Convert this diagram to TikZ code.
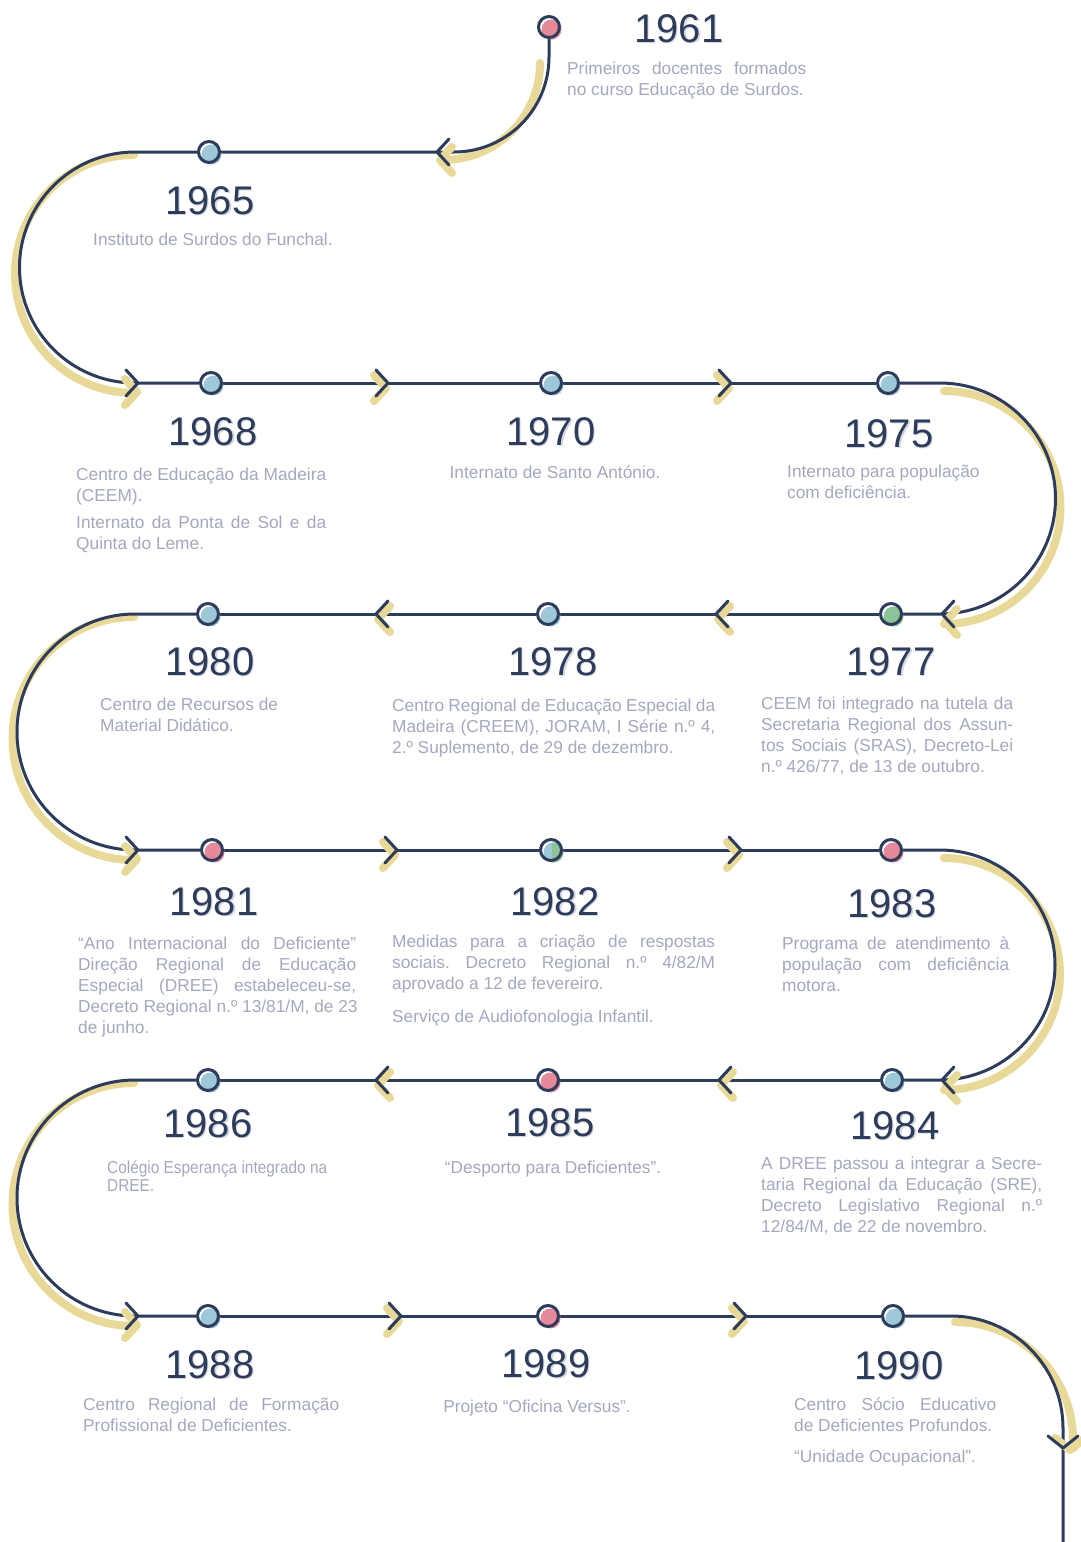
\documentclass[tikz,border=0pt]{standalone}
\usepackage{fontspec}
\setmainfont{Liberation Sans}
\frenchspacing

\definecolor{navy}{RGB}{46,60,92}
\definecolor{sand}{RGB}{233,217,152}
\definecolor{pinkD}{RGB}{232,137,155}
\definecolor{blueD}{RGB}{156,200,216}
\definecolor{greenD}{RGB}{140,196,154}
\definecolor{txt}{RGB}{163,168,190}
\definecolor{yshadow}{RGB}{214,216,224}

% stretched (justified) line of a given width
\newcommand\J[2]{\makebox[#1pt][s]{#2}}

% chevrons: tip x, tip y, shadow dx, shadow dy
\newcommand\chevR[4]{%
  \draw[shade] ({#1+#3-12},{#2+#4-13}) -- ({#1+#3},{#2+#4}) -- ({#1+#3-12},{#2+#4+13});
  \draw[chev] ({#1-12},{#2-13}) -- (#1,#2) -- ({#1-12},{#2+13});}
\newcommand\chevL[4]{%
  \draw[shade] ({#1+#3+12},{#2+#4-13}) -- ({#1+#3},{#2+#4}) -- ({#1+#3+12},{#2+#4+13});
  \draw[chev] ({#1+12},{#2-13}) -- (#1,#2) -- ({#1+12},{#2+13});}
\newcommand\chevD[4]{%
  \draw[shade] ({#1+#3-15},{#2+#4-12}) -- ({#1+#3},{#2+#4}) -- ({#1+#3+15},{#2+#4-12});
  \draw[chev] ({#1-15},{#2-12}) -- (#1,#2) -- ({#1+15},{#2-12});}

% timeline stop: white disc, offset coloured disc, navy ring
\newcommand\dotmark[2]{%
  \fill[white] (#1) circle (10.5);
  \fill[#2] ([shift={(2.5,2.5)}]#1.center) circle (10);
  \draw[navy,line width=3pt] (#1) circle (10.5);}

% year with soft shadow
\newcommand\yrlabel[3]{%
  \node[yr,text=yshadow] at ({#1+1.2},{#2+1.2}) {#3};
  \node[yr] (y#3) at (#1,#2) {#3};}

\tikzset{
  tl/.style={draw=navy, line width=3pt},
  chev/.style={draw=navy, line width=3pt, line cap=round, line join=round},
  shade/.style={draw=sand, line width=8pt, line cap=round, line join=round},
  stop/.style={circle, minimum size=24pt, inner sep=0pt},
  yr/.style={font=\fontsize{40}{40}\selectfont, text=navy, inner sep=0pt},
  body/.style={anchor=north west, inner sep=0pt, align=left, text=txt,
    font=\fontsize{17.3}{21}\selectfont, yshift=14.7pt,
    execute at begin node={\strut}},
  narrow/.style={anchor=north west, inner sep=0pt, align=left, text=txt,
    font=\fontsize{17.3}{18}\selectfont, yshift=12.6pt},
  one/.style={anchor=base, inner sep=0pt, text=txt,
    font=\fontsize{17.3}{21}\selectfont},
}

\begin{document}
\begin{tikzpicture}[x=1pt,y=-1pt]
\useasboundingbox (0,0) rectangle (1081,1542);

% stops along the line
\foreach \n/\x/\y in {1961/549/27, 1965/209/152, 1968/211/383, 1970/551/383,
  1975/888/383, 1977/891/614, 1978/548/614, 1980/208/614, 1981/212/850,
  1982/551/850, 1983/891/850, 1984/892/1080, 1985/548/1080, 1986/208/1080,
  1988/208/1316, 1989/548/1316, 1990/893/1316}
  \node[stop] (d\n) at (\x,\y) {};
\coordinate (tail) at (1063,1542);

% sand shadows of the bends
\draw[shade] (540,63) arc[start angle=0, end angle=90, radius=97];
\draw[shade] (134,155) arc[start angle=270, end angle=90, radius=119];
\draw[shade] (944,391) arc[start angle=270, end angle=450, radius=116.5];
\draw[shade] (134,617) arc[start angle=270, end angle=90, radius=121.5];
\draw[shade] (944,858) arc[start angle=270, end angle=450, radius=116];
\draw[shade] (134,1083) arc[start angle=270, end angle=90, radius=121.5];
\draw[shade] (955,1322) arc[start angle=270, end angle=360, radius=118] -- (1074,1448);

% the winding line
\draw[tl] (d1961) -- (549,57) arc[start angle=0, end angle=90, radius=95] -- (d1965);
\draw[tl] (d1965) -- (135,152) arc[start angle=270, end angle=90, radius=115.5] -- (d1968);
\draw[tl] (d1968) -- (d1970);
\draw[tl] (d1970) -- (d1975);
\draw[tl] (d1975) -- (940,383) arc[start angle=270, end angle=450, radius=115.5] -- (d1977);
\draw[tl] (d1977) -- (d1978);
\draw[tl] (d1978) -- (d1980);
\draw[tl] (d1980) -- (135,614) arc[start angle=270, end angle=90, radius=118] -- (d1981);
\draw[tl] (d1981) -- (d1982);
\draw[tl] (d1982) -- (d1983);
\draw[tl] (d1983) -- (940,850) arc[start angle=270, end angle=450, radius=115] -- (d1984);
\draw[tl] (d1984) -- (d1985);
\draw[tl] (d1985) -- (d1986);
\draw[tl] (d1986) -- (135,1080) arc[start angle=270, end angle=90, radius=118] -- (d1988);
\draw[tl] (d1988) -- (d1989);
\draw[tl] (d1989) -- (d1990);
\draw[tl] (d1990) -- (951,1316) arc[start angle=270, end angle=360, radius=112] -- (tail);

% direction marks
\chevL{437}{152}{3}{8}
\chevR{138}{383}{-1}{9}
\chevR{388}{383}{-2}{5}
\chevR{731}{383}{-2}{5}
\chevL{942}{614}{3}{8}
\chevL{716}{614}{2}{5}
\chevL{376}{614}{2}{5}
\chevR{138}{850}{-1}{9}
\chevR{397}{850}{-2}{5}
\chevR{741}{850}{-2}{5}
\chevL{942}{1080}{3}{8}
\chevL{719}{1080}{2}{5}
\chevL{376}{1080}{2}{5}
\chevR{138}{1316}{-1}{9}
\chevR{401}{1316}{-2}{5}
\chevR{746}{1316}{-2}{5}
\chevD{1063}{1448}{7}{2}

% stop markers
\dotmark{d1961}{pinkD}
\dotmark{d1965}{blueD}
\dotmark{d1968}{blueD}
\dotmark{d1970}{blueD}
\dotmark{d1975}{blueD}
\dotmark{d1977}{greenD}
\dotmark{d1978}{blueD}
\dotmark{d1980}{blueD}
\dotmark{d1981}{pinkD}
\fill[white] (d1982) circle (10.5);
\fill[blueD] ([shift={(2.5,2.5)}]d1982.center) circle (10);
\begin{scope}
  \clip (552,830) rectangle (575,870);
  \fill[greenD] ([shift={(2.5,2.5)}]d1982.center) circle (10);
\end{scope}
\draw[navy,line width=3pt] (d1982) circle (10.5);
\dotmark{d1983}{pinkD}
\dotmark{d1984}{blueD}
\dotmark{d1985}{pinkD}
\dotmark{d1986}{blueD}
\dotmark{d1988}{blueD}
\dotmark{d1989}{pinkD}
\dotmark{d1990}{blueD}

% years
\yrlabel{679}{29}{1961}
\yrlabel{210}{201}{1965}
\yrlabel{213}{432}{1968}
\yrlabel{551}{432}{1970}
\yrlabel{889}{434}{1975}
\yrlabel{891}{662}{1977}
\yrlabel{553}{662}{1978}
\yrlabel{210}{662}{1980}
\yrlabel{214}{902}{1981}
\yrlabel{555}{902}{1982}
\yrlabel{892}{904}{1983}
\yrlabel{895}{1126}{1984}
\yrlabel{550}{1123}{1985}
\yrlabel{208}{1124}{1986}
\yrlabel{210}{1365}{1988}
\yrlabel{546}{1364}{1989}
\yrlabel{899}{1366}{1990}

% descriptions
\node[body] (t1961) at (567,76.5) {\J{239}{Primeiros docentes formados}\\no curso Educação de Surdos.};
\node[body] (t1965) at (93,245.5) {Instituto de Surdos do Funchal.};
\node[body] (t1968) at (76,482.5) {\J{250}{Centro de Educação da Madeira}\\(CEEM).\\[6pt]\J{250}{Internato da Ponta de Sol e da}\\Quinta do Leme.};
\node[one] (t1970) at (555,478.5) {Internato de Santo António.};
\node[body] (t1975) at (787,479.5) {Internato para população\\com deficiência.};
\node[body] (t1977) at (761,711.5) {\J{252}{CEEM foi integrado na tutela da}\\\J{252}{Secretaria Regional dos Assun-}\\\J{252}{tos Sociais (SRAS), Decreto-Lei}\\n.º 426/77, de 13 de outubro.};
\node[body] (t1978) at (392,713.5) {\J{323}{Centro Regional de Educação Especial da}\\\J{323}{Madeira (CREEM), JORAM, I Série n.º 4,}\\2.º Suplemento, de 29 de dezembro.};
\node[body] (t1980) at (100,712.5) {Centro de Recursos de\\Material Didático.};
\node[body] (t1981) at (78,951.5) {\J{278}{“Ano Internacional do Deficiente”}\\\J{278}{Direção Regional de Educação}\\\J{278}{Especial (DREE) estabeleceu-se,}\\Decreto Regional n.º 13/81/M, de 23\\de junho.};
\node[body] (t1982) at (392,949.5) {\J{323}{Medidas para a criação de respostas}\\\J{323}{sociais. Decreto Regional n.º 4/82/M}\\aprovado a 12 de fevereiro.\\[12pt]Serviço de Audiofonologia Infantil.};
\node[body] (t1983) at (782,951.5) {\J{227}{Programa de atendimento à}\\\J{227}{população com deficiência}\\motora.};
\node[body] (t1984) at (761,1171.5) {\J{281}{A DREE passou a integrar a Secre-}\\\J{281}{taria Regional da Educação (SRE),}\\\J{281}{Decreto Legislativo Regional n.º}\\12/84/M, de 22 de novembro.};
\node[one] (t1985) at (553,1173.5) {“Desporto para Deficientes”.};
\node[narrow] (t1986) at (107,1173) {\scalebox{0.89}[1]{\strut Colégio Esperança integrado na}\\\scalebox{0.89}[1]{DREE.}};
\node[body] (t1988) at (83,1412.5) {\J{256}{Centro Regional de Formação}\\Profissional de Deficientes.};
\node[one] (t1989) at (537,1412.5) {Projeto “Oficina Versus”.};
\node[body] (t1990) at (794,1412.5) {\J{202}{Centro Sócio Educativo}\\de Deficientes Profundos.\\[10pt]“Unidade Ocupacional”.};

\end{tikzpicture}
\end{document}
